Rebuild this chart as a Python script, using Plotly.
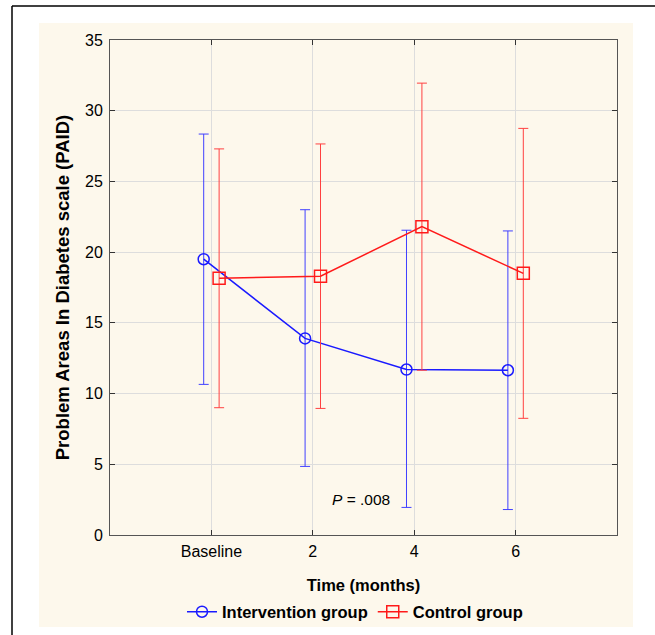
import plotly.graph_objects as go

# ---- data ----
time_labels = ["Baseline", "2", "4", "6"]
intervention_mean = [19.5, 13.9, 11.7, 11.65]
intervention_upper = [28.35, 23.0, 21.55, 21.5]
intervention_lower = [10.65, 4.85, 1.95, 1.8]
control_mean = [18.15, 18.3, 21.8, 18.5]
control_upper = [27.3, 27.65, 31.95, 28.75]
control_lower = [9.0, 8.95, 11.65, 8.25]
p_text = "<i>P</i> = .008"

# ---- layout geometry (pixels) ----
W, H = 655, 635
L, R, T, B = 110, 617, 40, 535
pw, ph = R - L, B - T

def px(x):
    return (x - L) / pw

def py(y):
    return (B - y) / ph

pos = list(range(1, len(time_labels) + 1))
off = 0.076
FONT = "Liberation Sans, Arial, sans-serif"

fig = go.Figure()

fig.add_trace(go.Scatter(
    x=[p - off for p in pos], y=intervention_mean,
    mode="lines+markers", name="Intervention group",
    line=dict(color="#1a1aff", width=1.5),
    marker=dict(symbol="circle-open", size=11, color="#1a1aff", line=dict(width=1.5)),
    error_y=dict(type="data", symmetric=False,
                 array=[u - m for u, m in zip(intervention_upper, intervention_mean)],
                 arrayminus=[m - l for m, l in zip(intervention_mean, intervention_lower)],
                 color="#4040ff", thickness=1, width=5),
))
fig.add_trace(go.Scatter(
    x=[p + off for p in pos], y=control_mean,
    mode="lines+markers", name="Control group",
    line=dict(color="#ff1a1a", width=1.5),
    marker=dict(symbol="square-open", size=12, color="#ff1a1a", line=dict(width=1.5)),
    error_y=dict(type="data", symmetric=False,
                 array=[u - m for u, m in zip(control_upper, control_mean)],
                 arrayminus=[m - l for m, l in zip(control_mean, control_lower)],
                 color="#ff4040", thickness=1, width=5),
))

fig.add_annotation(x=2.475, y=2.5, text=p_text, showarrow=False,
                   font=dict(family=FONT, size=15.5, color="black"))

shapes = [
    dict(type="rect", xref="paper", yref="paper", layer="below",
         x0=px(39), x1=px(633), y0=py(627), y1=py(23),
         fillcolor="#fdf8ec", line=dict(width=0)),
    dict(type="line", xref="paper", yref="paper",
         x0=px(12), x1=px(12), y0=py(6), y1=py(640),
         line=dict(color="black", width=1.5)),
    dict(type="line", xref="paper", yref="paper",
         x0=px(12), x1=px(660), y0=py(6), y1=py(6),
         line=dict(color="black", width=1.5)),
]

fig.update_layout(
    width=W, height=H,
    margin=dict(l=L, r=W - R, t=T, b=H - B, autoexpand=False),
    paper_bgcolor="white", plot_bgcolor="white",
    font=dict(family=FONT, size=16, color="black"),
    shapes=shapes,
    showlegend=True,
    legend=dict(orientation="h", x=px(355), xanchor="center", y=py(612), yanchor="middle",
                font=dict(family=FONT, size=16.5, color="black", weight="bold"),
                bgcolor="rgba(0,0,0,0)", itemwidth=30),
    xaxis=dict(range=[0, 5], tickvals=pos, ticktext=time_labels,
               showgrid=True, gridcolor="#dddddd", gridwidth=1,
               zeroline=False, showline=True, linecolor="#555555", linewidth=1, mirror="ticks",
               ticks="inside", ticklen=5, tickcolor="#333333",
               tickfont=dict(size=16), ticklabelstandoff=2,
               title=dict(text="<b>Time (months)</b>", font=dict(size=16.5), standoff=20)),
    yaxis=dict(range=[0, 35], dtick=5,
               showgrid=True, gridcolor="#dddddd", gridwidth=1,
               zeroline=False, showline=True, linecolor="#555555", linewidth=1, mirror="ticks",
               ticks="inside", ticklen=5, tickcolor="#333333",
               tickfont=dict(size=16), ticklabelstandoff=3,
               title=dict(text="<b>Problem Areas In Diabetes scale (PAID)</b>", font=dict(size=18.5), standoff=10)),
)

fig.write_html("out.html")
